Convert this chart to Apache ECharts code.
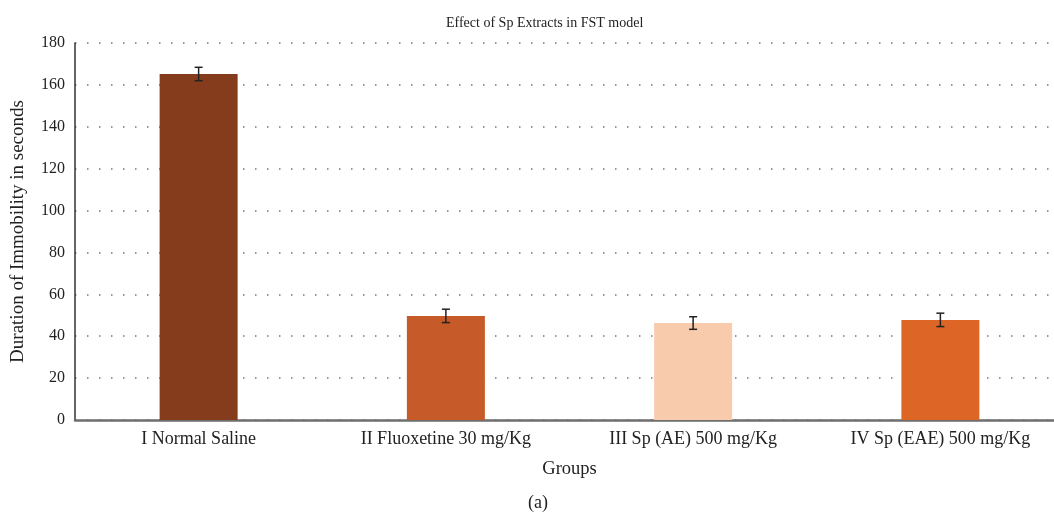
<!DOCTYPE html>
<html><head><meta charset="utf-8">
<script src="https://cdn.jsdelivr.net/npm/echarts@6/dist/echarts.min.js"></script>
<style>html,body{margin:0;padding:0;background:#fff;overflow:hidden}#c{width:1064px;height:516px}</style>
</head><body><div id="c"></div>
<script>
const categories = ['I Normal Saline', 'II Fluoxetine 30 mg/Kg', 'III Sp (AE) 500 mg/Kg', 'IV Sp (EAE) 500 mg/Kg'];
const values = [165.2, 49.7, 46.3, 47.8];
const errors = [3.2, 3.2, 3.0, 3.2];
const colors = ['#843C1C', '#C65A28', '#F8CBAD', '#DD6627'];
const yTicks = { min: 0, max: 180, interval: 20 };

const font = 'Liberation Serif';
const chart = echarts.init(document.getElementById('c'));
chart.setOption({
  animation: false,
  textStyle: { fontFamily: font },
  title: [
    { text: 'Effect of Sp Extracts in FST model', left: 441, top: 11,
      textStyle: { fontFamily: font, fontSize: 14, fontWeight: 'normal', color: '#222' } },
    { text: '(a)', left: 523, top: 489,
      textStyle: { fontFamily: font, fontSize: 18, fontWeight: 'normal', color: '#222' } }
  ],
  grid: { left: 75, top: 43, right: 0, bottom: 96, containLabel: false },
  xAxis: {
    type: 'category', data: categories,
    name: 'Groups', nameLocation: 'middle', nameGap: 40,
    nameTextStyle: { fontFamily: font, fontSize: 18.5, color: '#222' },
    axisLine: { lineStyle: { color: '#6e6e6e', width: 2.5 } },
    axisTick: { show: false },
    axisLabel: { fontFamily: font, fontSize: 18, color: '#222', margin: 10 }
  },
  yAxis: {
    type: 'value', min: yTicks.min, max: yTicks.max, interval: yTicks.interval,
    name: 'Duration of Immobility in seconds', nameLocation: 'middle', nameGap: 47,
    nameTextStyle: { fontFamily: font, fontSize: 19, color: '#222' },
    axisLine: { show: true, lineStyle: { color: '#333', width: 1.5 } },
    axisTick: { show: false },
    axisLabel: { fontFamily: font, fontSize: 16, color: '#222', margin: 10 },
    splitLine: { lineStyle: { color: '#777', type: [1.5, 10.5], width: 1.5 } }
  },
  series: [
    {
      type: 'bar', barWidth: 78,
      data: values.map((v, i) => ({ value: v, itemStyle: { color: colors[i] } }))
    },
    {
      type: 'custom', z: 10,
      data: values.map((v, i) => [i, v - errors[i], v + errors[i]]),
      renderItem: function (params, api) {
        const x = api.coord([api.value(0), api.value(1)])[0];
        const lo = api.coord([api.value(0), api.value(1)])[1];
        const hi = api.coord([api.value(0), api.value(2)])[1];
        const w = 4;
        const st = { stroke: '#222', lineWidth: 1.5 };
        return { type: 'group', children: [
          { type: 'line', shape: { x1: x, y1: hi, x2: x, y2: lo }, style: st },
          { type: 'line', shape: { x1: x - w, y1: hi, x2: x + w, y2: hi }, style: st },
          { type: 'line', shape: { x1: x - w, y1: lo, x2: x + w, y2: lo }, style: st }
        ]};
      }
    }
  ]
});
</script></body></html>
